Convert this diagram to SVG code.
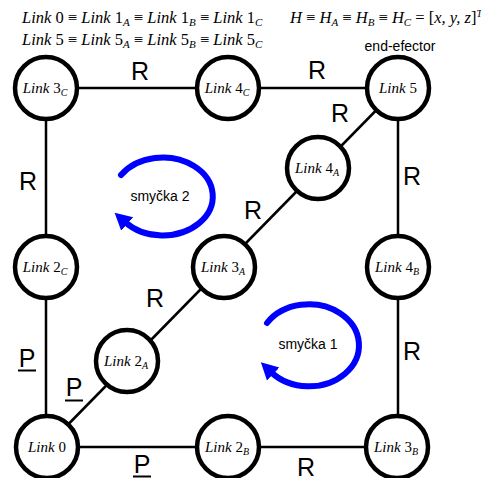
<svg xmlns="http://www.w3.org/2000/svg" width="481" height="478" viewBox="0 0 481 478">
  <style>
    .edge { stroke: #000; stroke-width: 2.5; fill: none; }
    .node circle { fill: #fff; stroke: #000; stroke-width: 4.5; }
    .node text { font-family: "Liberation Serif", "DejaVu Serif", serif; font-size: 15px; text-anchor: middle; fill: #000; }
    .it { font-style: italic; }
    .sub { font-style: italic; font-size: 10px; }
    .joint { font-family: "Liberation Sans", Arial, sans-serif; font-size: 25px; text-anchor: middle; fill: #000; }
    .ul { stroke: #000; stroke-width: 2; }
    .math { font-family: "Liberation Serif", "DejaVu Serif", serif; font-size: 16.5px; fill: #000; }
    .math .sub { font-size: 11px; }
    .sans { font-family: "Liberation Sans", Arial, sans-serif; fill: #000; }
    .loop { stroke: #0000ff; stroke-width: 6; fill: none; stroke-linecap: round; }
  </style>
  <defs>
    <marker id="loopHead" markerUnits="userSpaceOnUse" markerWidth="24" markerHeight="24" viewBox="0 -12 24 24" refX="3" refY="0" orient="auto">
      <path d="M0,-9 L17,0 L0,9 Z" fill="#0000ff"/>
    </marker>
  </defs>

  <!-- header equations -->
  <text class="math" x="22" y="23"><tspan class="it">Link</tspan> 0 ≡ <tspan class="it">Link</tspan> 1<tspan class="sub" dy="3">A</tspan><tspan dy="-3"> ≡ </tspan><tspan class="it">Link</tspan> 1<tspan class="sub" dy="3">B</tspan><tspan dy="-3"> ≡ </tspan><tspan class="it">Link</tspan> 1<tspan class="sub" dy="3">C</tspan></text>
  <text class="math" x="22" y="45"><tspan class="it">Link</tspan> 5 ≡ <tspan class="it">Link</tspan> 5<tspan class="sub" dy="3">A</tspan><tspan dy="-3"> ≡ </tspan><tspan class="it">Link</tspan> 5<tspan class="sub" dy="3">B</tspan><tspan dy="-3"> ≡ </tspan><tspan class="it">Link</tspan> 5<tspan class="sub" dy="3">C</tspan></text>
  <text class="math" x="290" y="23" font-size="15.5"><tspan class="it">H</tspan> ≡ <tspan class="it">H</tspan><tspan class="sub" dy="3">A</tspan><tspan dy="-3"> ≡ </tspan><tspan class="it">H</tspan><tspan class="sub" dy="3">B</tspan><tspan dy="-3"> ≡ </tspan><tspan class="it">H</tspan><tspan class="sub" dy="3">C</tspan><tspan dy="-3"> = [</tspan><tspan class="it">x, y, z</tspan>]<tspan font-size="10" class="it" dy="-6">T</tspan></text>
  <text class="sans" x="400" y="51" font-size="14" text-anchor="middle">end-efector</text>

  <!-- connectors -->
  <g id="connectors">
    <line class="edge" x1="46" y1="88" x2="398" y2="88"/>
    <line class="edge" x1="46" y1="88" x2="46" y2="447"/>
    <line class="edge" x1="398" y1="88" x2="398" y2="447"/>
    <line class="edge" x1="46" y1="447" x2="398" y2="447"/>
    <line class="edge" x1="46" y1="447" x2="398" y2="88"/>
  </g>

  <!-- joint labels -->
  <g id="joints">
    <text class="joint" x="140" y="80">R</text>
    <text class="joint" x="317" y="79">R</text>
    <text class="joint" x="340" y="122">R</text>
    <text class="joint" x="28" y="190">R</text>
    <text class="joint" x="412" y="185">R</text>
    <text class="joint" x="253" y="219">R</text>
    <text class="joint" x="155" y="307">R</text>
    <text class="joint" x="412" y="360">R</text>
    <text class="joint" x="306" y="476">R</text>
    <text class="joint" x="27" y="367">P</text>
    <line class="ul" x1="18" y1="370.5" x2="36" y2="370.5"/>
    <text class="joint" x="74" y="396">P</text>
    <line class="ul" x1="65" y1="400.5" x2="83" y2="400.5"/>
    <text class="joint" x="142" y="473">P</text>
    <line class="ul" x1="133" y1="476.5" x2="151" y2="476.5"/>
  </g>

  <!-- loops -->
  <g id="loop2">
    <path class="loop" d="M 121 175 A 50 39 0 1 1 125 222" marker-end="url(#loopHead)"/>
    <text class="sans" x="160" y="201" font-size="14" text-anchor="middle">smyčka 2</text>
  </g>
  <g id="loop1">
    <path class="loop" d="M 267 323 A 50 41 0 1 1 271 372" marker-end="url(#loopHead)"/>
    <text class="sans" x="308" y="349" font-size="14" text-anchor="middle">smyčka 1</text>
  </g>

  <!-- nodes -->
  <g id="link3C" class="node"><circle cx="46" cy="88" r="31"/><text x="45" y="93"><tspan class="it">Link</tspan> 3<tspan class="sub" dy="3">C</tspan></text></g>
  <g id="link4C" class="node"><circle cx="228" cy="88" r="31"/><text x="227" y="93"><tspan class="it">Link</tspan> 4<tspan class="sub" dy="3">C</tspan></text></g>
  <g id="link5" class="node"><circle cx="398" cy="88" r="31"/><text x="398" y="93"><tspan class="it">Link</tspan> 5</text></g>
  <g id="link4A" class="node"><circle cx="318" cy="168" r="31"/><text x="317" y="173"><tspan class="it">Link</tspan> 4<tspan class="sub" dy="3">A</tspan></text></g>
  <g id="link2C" class="node"><circle cx="46" cy="267" r="31"/><text x="45" y="272"><tspan class="it">Link</tspan> 2<tspan class="sub" dy="3">C</tspan></text></g>
  <g id="link3A" class="node"><circle cx="224" cy="267" r="31"/><text x="223" y="272"><tspan class="it">Link</tspan> 3<tspan class="sub" dy="3">A</tspan></text></g>
  <g id="link4B" class="node"><circle cx="398" cy="267" r="31"/><text x="397" y="272"><tspan class="it">Link</tspan> 4<tspan class="sub" dy="3">B</tspan></text></g>
  <g id="link2A" class="node"><circle cx="127" cy="361" r="31"/><text x="126" y="366"><tspan class="it">Link</tspan> 2<tspan class="sub" dy="3">A</tspan></text></g>
  <g id="link0" class="node"><circle cx="47" cy="447" r="31"/><text x="47" y="452"><tspan class="it">Link</tspan> 0</text></g>
  <g id="link2B" class="node"><circle cx="228" cy="447" r="31"/><text x="227" y="452"><tspan class="it">Link</tspan> 2<tspan class="sub" dy="3">B</tspan></text></g>
  <g id="link3B" class="node"><circle cx="397" cy="447" r="31"/><text x="396" y="452"><tspan class="it">Link</tspan> 3<tspan class="sub" dy="3">B</tspan></text></g>

  <!-- base caption, running off the bottom edge -->
  <text class="sans" x="86" y="488" font-size="14" text-anchor="middle">Base</text>
</svg>
